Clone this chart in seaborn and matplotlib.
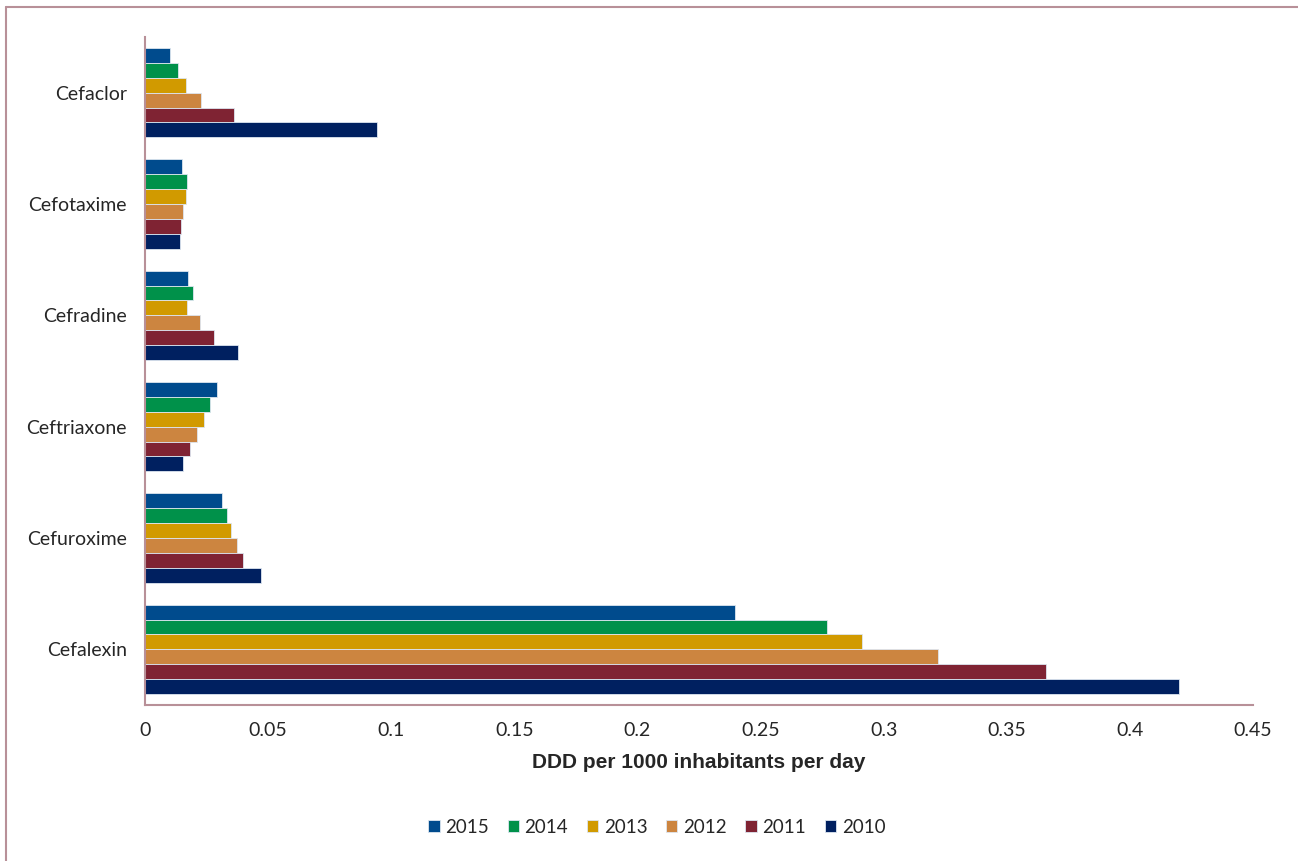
import matplotlib
matplotlib.use("Agg")
import matplotlib.pyplot as plt
import seaborn as sns
import pandas as pd
import numpy as np

drugs = ["Cefaclor", "Cefotaxime", "Cefradine", "Ceftriaxone", "Cefuroxime", "Cefalexin"]
years = ["2015", "2014", "2013", "2012", "2011", "2010"]

v2015 = [0.0102, 0.0152, 0.0175, 0.0292, 0.0313, 0.2395]
v2014 = [0.0134, 0.0172, 0.0197, 0.0264, 0.0333, 0.2768]
v2013 = [0.0167, 0.0167, 0.0172, 0.0240, 0.0350, 0.2913]
v2012 = [0.0228, 0.0155, 0.0222, 0.0213, 0.0372, 0.3222]
v2011 = [0.0362, 0.0147, 0.0282, 0.0181, 0.0400, 0.3660]
v2010 = [0.0943, 0.0144, 0.0379, 0.0155, 0.0473, 0.4198]

colors = ["#004b8d", "#00914a", "#d19a00", "#cc8540", "#7f2333", "#002060"]
axis_col = "#b89098"

rows = []
for yr, vals in zip(years, [v2015, v2014, v2013, v2012, v2011, v2010]):
    for d, v in zip(drugs, vals):
        rows.append({"drug": d, "year": yr, "value": v})
df = pd.DataFrame(rows)

sns.set_style("white")
plt.rcParams['font.family'] = ['Lato', 'DejaVu Sans']

fig = plt.figure(figsize=(12.98, 8.61), dpi=100)
ax = fig.add_axes([0.1117, 0.1812, 0.8536, 0.7758])

sns.barplot(data=df, y="drug", x="value", hue="year", order=drugs, hue_order=years,
            palette=colors, saturation=1, orient="h", width=0.8, edgecolor="#dde6f0",
            linewidth=0.6, ax=ax)

ax.set_xlim(0, 0.45)
ax.set_ylim(len(drugs) - 0.5, -0.5)
xt = np.arange(0, 0.451, 0.05)
ax.set_xticks(xt)
ax.set_xticklabels(["0", "0.05", "0.1", "0.15", "0.2", "0.25", "0.3", "0.35", "0.4", "0.45"])
ax.set_yticks(range(len(drugs)))
ax.set_yticklabels(drugs)
ax.set_yticks(np.arange(-0.5, len(drugs), 1), minor=True)
ax.tick_params(axis="y", which="major", length=0, pad=13, labelsize=14)
ax.tick_params(axis="y", which="minor", length=7, width=1.5, color=axis_col, direction="out")
ax.tick_params(axis="x", which="major", length=7, width=1.5, color=axis_col, direction="out",
               labelsize=14, pad=5)

for s in ["top", "right"]:
    ax.spines[s].set_visible(False)
for s in ["left", "bottom"]:
    ax.spines[s].set_color(axis_col)
    ax.spines[s].set_linewidth(1.5)

ax.set_ylabel("")
ax.set_xlabel("DDD per 1000 inhabitants per day", fontsize=15, fontweight="bold",
              family=["Liberation Sans", "DejaVu Sans"], labelpad=10)

handles, labels = ax.get_legend_handles_labels()
ax.legend_.remove()
fig.legend(handles, labels, loc="center", bbox_to_anchor=(0.506, 0.039), ncol=6,
           frameon=False, fontsize=13.5, handlelength=0.6, handleheight=0.6,
           handletextpad=0.3, columnspacing=1.0)

# outer chart frame
fig.add_artist(plt.Line2D([0.005, 0.005], [0, 0.992], transform=fig.transFigure,
                          color=axis_col, lw=1.5))
fig.add_artist(plt.Line2D([0.005, 1.0], [0.992, 0.992], transform=fig.transFigure,
                          color=axis_col, lw=1.5))

fig.savefig("out.png", dpi=100)
